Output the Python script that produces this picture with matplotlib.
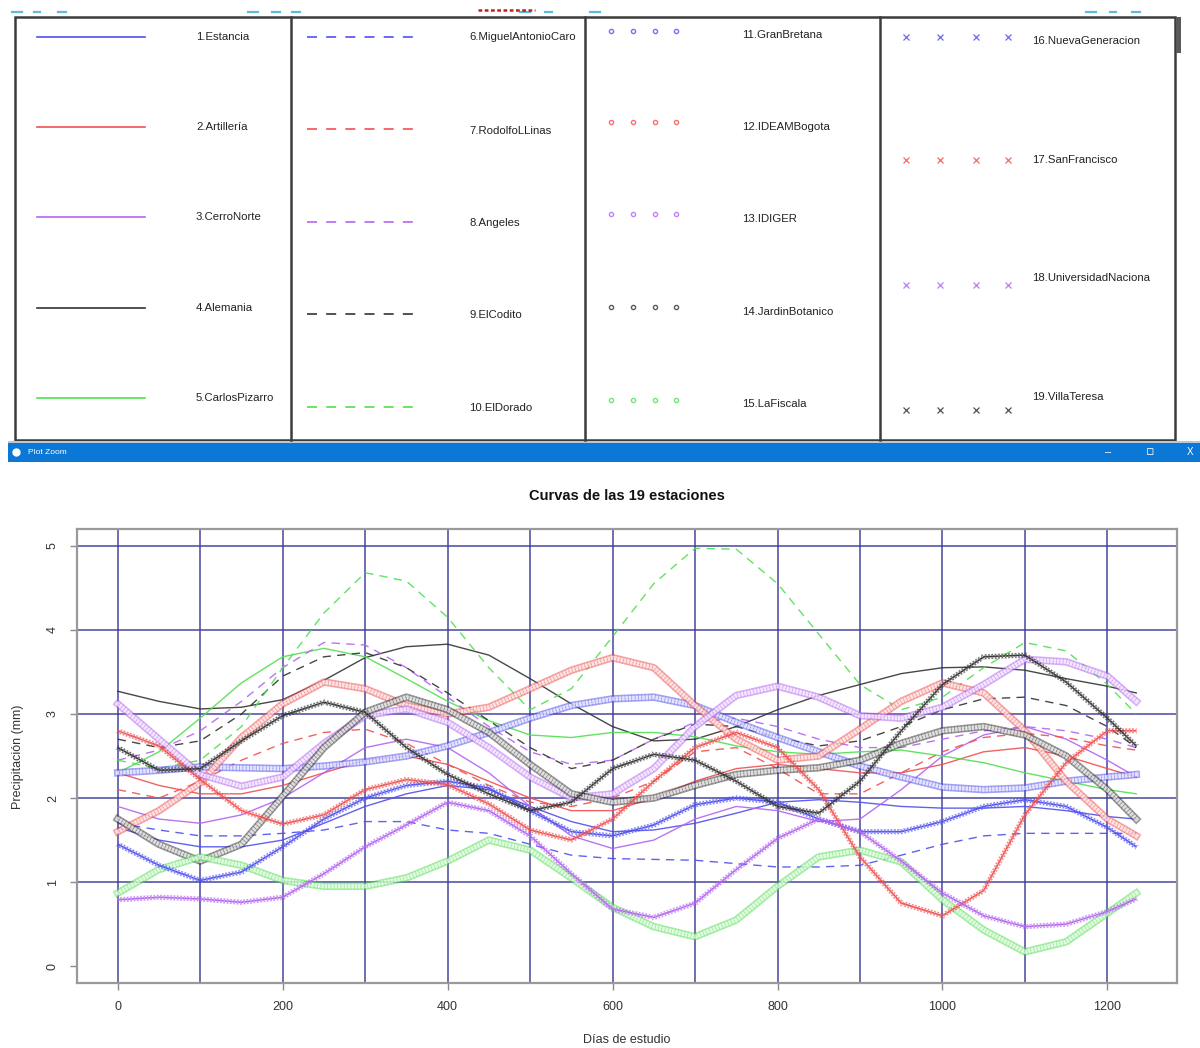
import matplotlib
matplotlib.use("Agg")
import matplotlib.pyplot as plt
from matplotlib import patheffects as pe
from matplotlib.patches import Rectangle

plt.rcParams["font.family"] = ["Liberation Sans", "DejaVu Sans"]
NARROW = ["Liberation Sans Narrow", "Liberation Sans", "DejaVu Sans"]

# ---------------------------------------------------------------- data
dias = [0, 50, 100, 150, 200, 250, 300, 350, 400, 450, 500, 550, 600,
        650, 700, 750, 800, 850, 900, 950, 1000, 1050, 1100, 1150, 1200, 1235]

estaciones = ["1.Estancia", "2.Artillería", "3.CerroNorte", "4.Alemania",
              "5.CarlosPizarro", "6.MiguelAntonioCaro", "7.RodolfoLLinas",
              "8.Angeles", "9.ElCodito", "10.ElDorado", "11.GranBretana",
              "12.IDEAMBogota", "13.IDIGER", "14.JardinBotanico",
              "15.LaFiscala", "16.NuevaGeneracion", "17.SanFrancisco",
              "18.UniversidadNaciona", "19.VillaTeresa"]

estancia = [1.65, 1.5, 1.42, 1.42, 1.5, 1.7, 1.9, 2.05, 2.15, 2.1, 1.9, 1.72, 1.6,
            1.62, 1.7, 1.82, 1.95, 1.98, 1.95, 1.9, 1.88, 1.88, 1.9, 1.85, 1.78, 1.75]
artilleria = [2.3, 2.15, 2.05, 2.05, 2.15, 2.3, 2.45, 2.5, 2.4, 2.2, 2.0, 1.85, 1.85,
              2.0, 2.2, 2.35, 2.4, 2.35, 2.3, 2.3, 2.4, 2.55, 2.6, 2.5, 2.35, 2.25]
cerro_norte = [1.9, 1.75, 1.7, 1.8, 2.0, 2.3, 2.6, 2.7, 2.6, 2.3, 1.9, 1.55, 1.4,
               1.5, 1.75, 1.9, 1.85, 1.72, 1.75, 2.1, 2.5, 2.75, 2.85, 2.7, 2.45, 2.25]
alemania = [3.27, 3.15, 3.06, 3.08, 3.17, 3.4, 3.67, 3.8, 3.83, 3.7, 3.42, 3.12, 2.85,
            2.68, 2.7, 2.85, 3.05, 3.22, 3.35, 3.48, 3.55, 3.56, 3.52, 3.42, 3.33, 3.25]
carlos_pizarro = [2.3, 2.55, 2.95, 3.37, 3.68, 3.78, 3.68, 3.42, 3.15, 2.92, 2.75, 2.72, 2.78,
                  2.78, 2.73, 2.62, 2.55, 2.52, 2.55, 2.57, 2.5, 2.42, 2.3, 2.2, 2.1, 2.05]
miguel_antonio_caro = [1.7, 1.62, 1.55, 1.55, 1.58, 1.62, 1.72, 1.72, 1.62, 1.58, 1.45, 1.32, 1.28,
                       1.27, 1.26, 1.22, 1.18, 1.18, 1.2, 1.32, 1.45, 1.55, 1.58, 1.58, 1.58, 1.58]
rodolfo_llinas = [2.1, 2.0, 2.2, 2.45, 2.65, 2.78, 2.82, 2.65, 2.4, 2.15, 1.95, 1.9, 2.0,
                  2.2, 2.55, 2.6, 2.35, 2.05, 2.05, 2.3, 2.55, 2.72, 2.77, 2.72, 2.62, 2.57]
angeles = [2.45, 2.57, 2.8, 3.15, 3.55, 3.85, 3.82, 3.55, 3.2, 2.85, 2.55, 2.4, 2.45,
           2.7, 2.9, 2.95, 2.85, 2.7, 2.6, 2.6, 2.7, 2.8, 2.85, 2.8, 2.7, 2.6]
el_codito = [2.7, 2.6, 2.68, 3.0, 3.45, 3.68, 3.73, 3.55, 3.25, 2.92, 2.6, 2.35, 2.45,
             2.7, 2.88, 2.85, 2.72, 2.62, 2.68, 2.85, 3.05, 3.18, 3.2, 3.1, 2.85, 2.6]
el_dorado = [2.45, 2.35, 2.45, 2.85, 3.55, 4.2, 4.68, 4.58, 4.15, 3.55, 3.05, 3.3, 3.92,
             4.55, 4.97, 4.96, 4.55, 3.95, 3.35, 3.05, 3.2, 3.55, 3.85, 3.75, 3.35, 3.0]
gran_bretana = [2.3, 2.33, 2.37, 2.36, 2.35, 2.38, 2.43, 2.5, 2.62, 2.78, 2.95, 3.1, 3.18,
                3.2, 3.1, 2.9, 2.72, 2.55, 2.38, 2.25, 2.13, 2.1, 2.12, 2.2, 2.25, 2.28]
ideam_bogota = [1.6, 1.85, 2.18, 2.72, 3.12, 3.38, 3.3, 3.1, 3.0, 3.08, 3.3, 3.52, 3.67,
                3.55, 3.1, 2.7, 2.45, 2.5, 2.82, 3.15, 3.37, 3.25, 2.8, 2.2, 1.75, 1.55]
idiger = [3.12, 2.7, 2.28, 2.14, 2.25, 2.65, 2.98, 3.06, 2.9, 2.6, 2.25, 2.0, 2.05,
          2.35, 2.85, 3.22, 3.33, 3.2, 2.98, 2.95, 3.08, 3.35, 3.65, 3.62, 3.45, 3.15]
jardin_botanico = [1.75, 1.45, 1.25, 1.45, 2.02, 2.6, 3.02, 3.2, 3.05, 2.78, 2.4, 2.05, 1.95,
                   2.0, 2.15, 2.28, 2.33, 2.36, 2.45, 2.65, 2.8, 2.85, 2.75, 2.5, 2.1, 1.75]
la_fiscala = [0.87, 1.15, 1.3, 1.2, 1.02, 0.95, 0.95, 1.05, 1.25, 1.5, 1.38, 1.05, 0.7,
              0.47, 0.35, 0.55, 0.95, 1.3, 1.38, 1.24, 0.79, 0.43, 0.17, 0.29, 0.63, 0.87]
nueva_generacion = [1.45, 1.2, 1.02, 1.12, 1.42, 1.75, 2.0, 2.15, 2.2, 2.12, 1.85, 1.6, 1.55,
                    1.68, 1.92, 2.0, 1.95, 1.75, 1.6, 1.6, 1.72, 1.9, 1.98, 1.9, 1.65, 1.42]
san_francisco = [2.8, 2.62, 2.22, 1.85, 1.69, 1.8, 2.1, 2.22, 2.16, 1.93, 1.62, 1.5, 1.75,
                 2.2, 2.6, 2.78, 2.6, 2.1, 1.3, 0.75, 0.6, 0.9, 1.8, 2.42, 2.8, 2.8]
universidad_nacional = [0.79, 0.82, 0.8, 0.76, 0.82, 1.1, 1.42, 1.68, 1.95, 1.85, 1.55, 1.1, 0.68,
                        0.58, 0.75, 1.15, 1.52, 1.75, 1.6, 1.25, 0.87, 0.6, 0.47, 0.5, 0.65, 0.8]
villa_teresa = [2.6, 2.33, 2.35, 2.68, 2.98, 3.14, 3.02, 2.6, 2.28, 2.05, 1.85, 1.95, 2.35,
                2.52, 2.45, 2.2, 1.9, 1.82, 2.2, 2.8, 3.35, 3.68, 3.7, 3.38, 2.95, 2.62]

series = [estancia, artilleria, cerro_norte, alemania, carlos_pizarro,
          miguel_antonio_caro, rodolfo_llinas, angeles, el_codito, el_dorado,
          gran_bretana, ideam_bogota, idiger, jardin_botanico, la_fiscala,
          nueva_generacion, san_francisco, universidad_nacional, villa_teresa]

x_ticks = [0, 200, 400, 600, 800, 1000, 1200]
y_ticks = [0, 1, 2, 3, 4, 5]

# ---------------------------------------------------------------- styles
palette = ["#5050f0", "#f05050", "#b464f2", "#333333", "#50e050"]
kinds = ["solid"] * 5 + ["dashed"] * 5 + ["circle"] * 5 + ["cross"] * 4
colors = [palette[i % 5] for i in range(19)]


def circle_effects(c):
    # a chain of small open circles: light outer band, white core, fine ribs
    return [pe.Stroke(linewidth=5.4, foreground=c, alpha=0.5),
            pe.Stroke(linewidth=3.0, foreground="white", alpha=0.7),
            pe.TickedStroke(angle=90, spacing=2.4, length=0.9,
                            linewidth=0.5, foreground=c, alpha=0.45),
            pe.TickedStroke(angle=-90, spacing=2.4, length=0.9,
                            linewidth=0.5, foreground=c, alpha=0.45)]


def cross_effects(c):
    fx = [pe.Stroke(linewidth=0.9, foreground=c, alpha=0.9)]
    for ang in (45, 135, -45, -135):
        fx.append(pe.TickedStroke(angle=ang, spacing=2.4, length=0.95,
                                  linewidth=0.6, foreground=c, alpha=0.6))
    return fx


fig = plt.figure(figsize=(12, 10.48), dpi=100)

# full-figure canvas in pixel units for the legend panel and window chrome
bg = fig.add_axes([0, 0, 1, 1])
bg.set_xlim(0, 1200)
bg.set_ylim(1048, 0)
bg.axis("off")

# clipped remnants of the row above the legend panel
frag_c = "#38a8d8"
for x0, x1 in [(12, 22), (34, 40), (58, 66), (248, 258), (272, 280),
               (292, 300), (520, 530), (545, 552), (590, 600),
               (1086, 1096), (1110, 1116), (1132, 1140)]:
    bg.plot([x0, x1], [12, 12], color=frag_c, lw=1.6, alpha=0.8)
bg.plot([478, 535], [10, 10], color="#c02020", lw=1.8, dashes=(1.5, 1.0))

frame_c = "#3c3c3c"
bg.add_patch(Rectangle((15, 17), 1160, 423, fill=False, ec=frame_c, lw=1.8))
for xv in (291, 585, 880):
    bg.plot([xv, xv], [17, 440], color=frame_c, lw=1.8)
bg.add_patch(Rectangle((1176, 17), 5, 36, color="#5a5a5a", lw=0))
bg.add_patch(Rectangle((8, 441), 1192, 3, color="#b8c8d8", lw=0))
bg.add_patch(Rectangle((8, 443), 1192, 19, color="#0b78d6", lw=0))
bg.plot([16], [452], "o", ms=5, mfc="white", mec="white")
bg.text(28, 452.5, "Plot Zoom", color="white", fontsize=6, va="center",
        family=NARROW)
bg.text(1108, 452, "–", color="white", fontsize=8, va="center", ha="center")
bg.text(1150, 452, "▫", color="white", fontsize=9, va="center", ha="center",
        family=["DejaVu Sans"])
bg.text(1190, 452, "X", color="white", fontsize=7, va="center", ha="center")

lab_kw = dict(fontsize=8.2, family=NARROW, color="#222222", va="center")

# column 1: solid lines
for i, yv in enumerate([37, 127, 217, 308, 398]):
    bg.plot([37, 145], [yv, yv], color=colors[i], lw=1.2)
    bg.text(196, yv, estaciones[i], **lab_kw)
# column 2: dashed lines
for k, (yv, yt) in enumerate(zip([37, 129, 222, 314, 407],
                                 [37, 131, 223, 315, 408])):
    i = 5 + k
    bg.plot([307, 417], [yv, yv], color=colors[i], lw=1.2, dashes=(6, 5.5))
    bg.text(469, yt, estaciones[i], **lab_kw)
# column 3: circles
for k, (yv, yt) in enumerate(zip([31, 122, 214, 307, 400],
                                 [35, 127, 219, 312, 404])):
    i = 10 + k
    bg.plot([611, 633, 655, 676], [yv] * 4, "o", ms=3.0, mfc="none",
            mec=colors[i], mew=1.0, alpha=0.8)
    bg.text(742, yt, estaciones[i], **lab_kw)
# column 4: crosses
for k, (yv, yt) in enumerate(zip([37, 160, 285, 410],
                                 [41, 160, 278, 397])):
    i = 15 + k
    bg.plot([906, 940, 976, 1008], [yv] * 4, "x", ms=5.0, mec=colors[i],
            mew=0.9, alpha=0.85)
    bg.text(1032, yt, estaciones[i], **lab_kw)

# titles of the plot panel
bg.text(627, 496, "Curvas de las 19 estaciones", fontsize=10.5,
        fontweight="bold", ha="center", va="center", color="#111111")
bg.text(627, 1040, "Días de estudio", fontsize=9, ha="center", va="center",
        color="#333333")
bg.text(18, 757, "Precipitación (mm)", fontsize=9, ha="center", va="center",
        rotation=90, color="#333333")

# ---------------------------------------------------------------- plot
ax = fig.add_axes([77 / 1200, (1048 - 983) / 1048, 1100 / 1200, 454 / 1048])
ax.set_facecolor("none")
ax.set_xlim(-49.4, 1284.4)
ax.set_ylim(-0.2, 5.2)

grid_c = "#3c3c98"
for gx in range(0, 1201, 100):
    ax.axvline(gx, color=grid_c, lw=1.3, alpha=0.8, zorder=1)
for gy in [1, 2, 3, 4, 5]:
    ax.axhline(gy, color=grid_c, lw=1.3, alpha=0.8, zorder=1)

for i, vals in enumerate(series):
    c = colors[i]
    if kinds[i] == "solid":
        ax.plot(dias, vals, color=c, lw=1.0, alpha=0.9, zorder=3)
    elif kinds[i] == "dashed":
        ax.plot(dias, vals, color=c, lw=1.0, alpha=0.9, dashes=(6, 4.5),
                zorder=3)
    elif kinds[i] == "circle":
        ax.plot(dias, vals, color=c, lw=1.0, zorder=3,
                path_effects=circle_effects(c))
    else:
        ax.plot(dias, vals, color=c, lw=0.9, zorder=3,
                path_effects=cross_effects(c))

for s in ax.spines.values():
    s.set_color("#9a9a9a")
    s.set_linewidth(1.6)
ax.set_xticks(x_ticks)
ax.set_yticks(y_ticks)
ax.set_yticklabels([str(v) for v in y_ticks], rotation=90, va="center")
ax.tick_params(axis="both", direction="out", length=5, width=1.0,
               color="#8a8a8a", labelsize=9, labelcolor="#333333", pad=8)

fig.savefig("out.png", dpi=100, facecolor="white")
